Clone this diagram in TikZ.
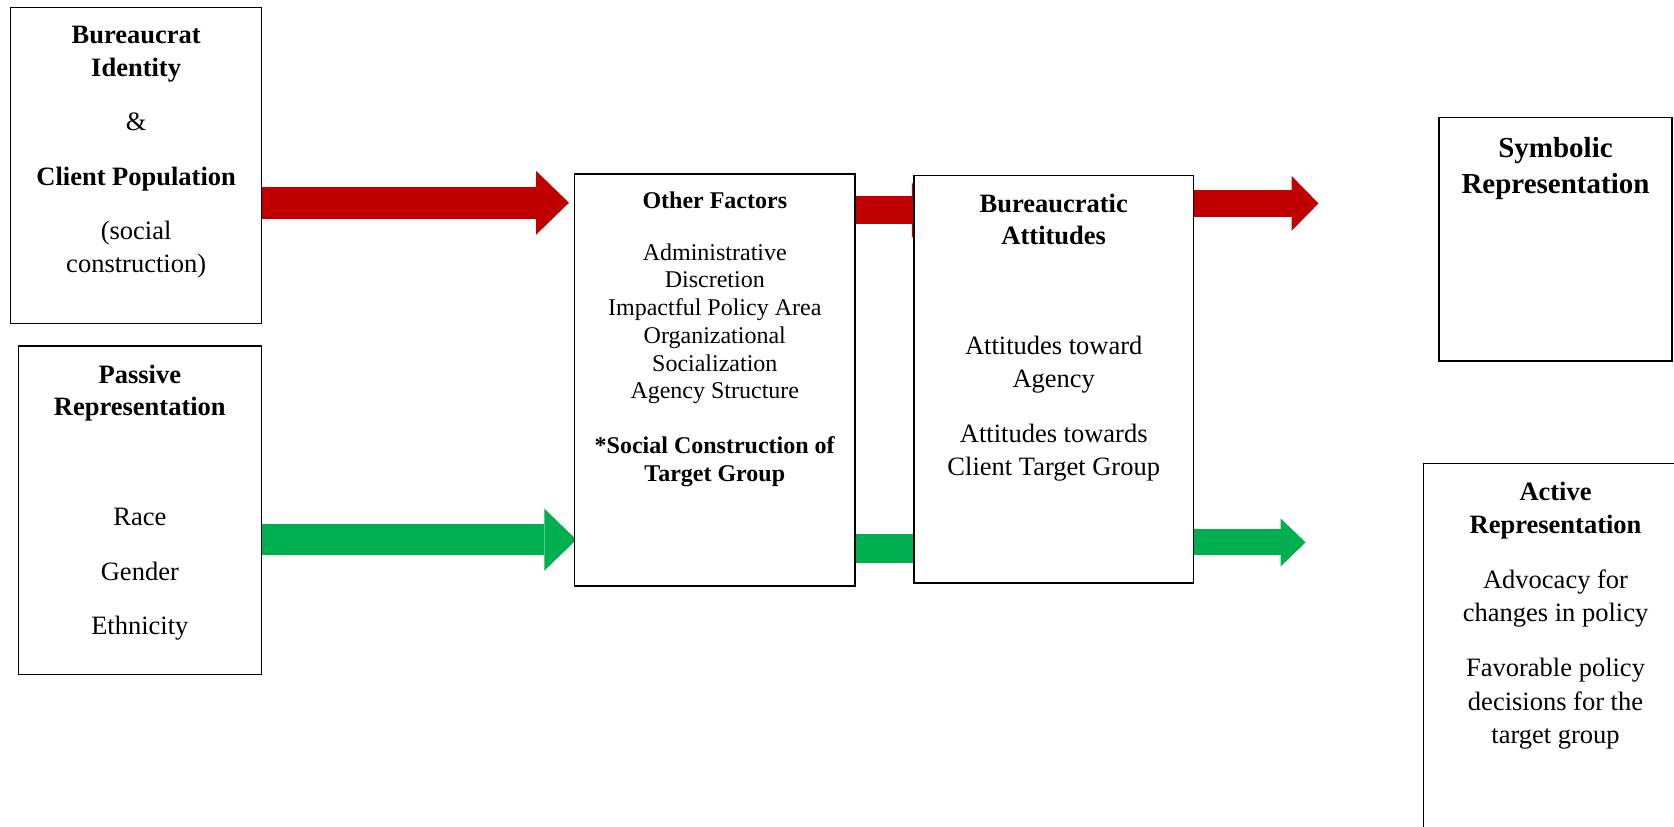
\documentclass[tikz,border=0pt]{standalone}
\usepackage{fontspec}
\setmainfont{Liberation Serif}
\usepackage{xcolor}
\usetikzlibrary{positioning,arrows.meta,backgrounds}
\definecolor{flowred}{HTML}{C00000}
\definecolor{flowgreen}{HTML}{00B050}
\newcommand{\mainsize}{\fontsize{26.5}{32.8}\selectfont}
\newcommand{\identsize}{\fontsize{26.5}{33.1}\selectfont}
\newcommand{\factorsize}{\fontsize{24}{27.7}\selectfont}
\newcommand{\symbsize}{\fontsize{29}{36}\selectfont}
\newcommand{\activesize}{\fontsize{26.5}{33.5}\selectfont}

\begin{document}
\begin{tikzpicture}[
    x=1pt, y=-1pt,
    box/.style={draw, fill=white, line width=1.2pt, inner sep=0pt, outer sep=0pt},
    heavybox/.style={box, line width=1.8pt},
    boxtext/.style={align=center, inner sep=0pt, outer sep=0pt},
    bigarrow/.style n args={3}{line width=#1, -{Triangle[length=#2, width=#3, line width=0pt]}},
  ]
  \useasboundingbox (0,0) rectangle (1674,827);

  % Left column
  \node[box, minimum width=250.9pt, minimum height=316pt] (ident) at (136.15,165.5) {};
  \node[boxtext, font=\identsize, below=18.5pt of ident.north] (identtext) {%
    \textbf{Bureaucrat}\\\textbf{Identity}\\[21.3pt]
    \&\\[21.3pt]
    \textbf{Client Population}\\[21.3pt]
    (social\\construction)};

  \node[box, minimum width=243.5pt, minimum height=328.8pt] (passive) at (139.85,510.3) {};
  \node[boxtext, font=\mainsize, below=18.9pt of passive.north] (passivetext) {%
    \textbf{Passive}\\\textbf{Representation}\\[77pt]
    Race\\[21.5pt]
    Gender\\[21.5pt]
    Ethnicity};

  % Middle column
  \node[heavybox, minimum width=280.8pt, minimum height=412.1pt] (factors) at (714.8,380.05) {};
  \node[boxtext, font=\factorsize, below=17.9pt of factors.north] (factorstext) {%
    \textbf{Other Factors}\\[24pt]
    Administrative\\Discretion\\Impactful Policy Area\\Organizational\\Socialization\\Agency Structure\\[27.5pt]
    \textbf{*Social Construction of}\\\textbf{Target Group}};

  \node[box, minimum width=279.7pt, minimum height=407.8pt] (attit) at (1053.75,379) {};
  \node[boxtext, font=\mainsize, below=18.6pt of attit.north] (attittext) {%
    \textbf{Bureaucratic}\\\textbf{Attitudes}\\[77pt]
    Attitudes toward\\Agency\\[22pt]
    Attitudes towards\\Client Target Group};

  % Right column
  \node[heavybox, minimum width=232.8pt, minimum height=243.5pt] (symb) at (1555.5,239.15) {};
  \node[boxtext, font=\symbsize, below=20.2pt of symb.north] (symbtext) {%
    \textbf{Symbolic}\\\textbf{Representation}};

  \node[box, minimum width=266.9pt, minimum height=381.7pt] (active) at (1556.55,654.15) {};
  \node[boxtext, font=\activesize, below=18.8pt of active.north, xshift=-1pt] (activetext) {%
    \textbf{Active}\\\textbf{Representation}\\[21pt]
    Advocacy for\\changes in policy\\[21.5pt]
    Favorable policy\\decisions for the\\target group};

  % Arrow rows
  \coordinate (redin) at (0,202.8);
  \coordinate (greenin) at (0,539.7);
  \coordinate (redmid) at (0,210.3);
  \coordinate (greenmid) at (0,548.2);
  \coordinate (redout) at (0,203.4);
  \coordinate (greenout) at (0,542.4);

  \begin{scope}[on background layer]
    \draw[flowred, bigarrow={32pt}{33pt}{64pt}, shorten >=5.4pt] (ident.east |- redin) -- (factors.west |- redin);
    \draw[flowgreen, bigarrow={31pt}{32pt}{62pt}, shorten >=-2pt] (passive.east |- greenin) -- (factors.west |- greenin);
    \draw[flowred, bigarrow={28pt}{26pt}{55pt}, shorten >=-24pt] (factors.east |- redmid) -- (attit.west |- redmid);
    \draw[flowgreen, bigarrow={29pt}{26pt}{56pt}, shorten >=-30pt] (factors.east |- greenmid) -- (attit.west |- greenmid);
    \draw[flowred, bigarrow={27pt}{27pt}{55pt}, shorten >=120.6pt] (attit.east |- redout) -- (symb.west |- redout);
    \draw[flowgreen, bigarrow={26pt}{25pt}{48pt}, shorten >=117.5pt] (attit.east |- greenout) -- (active.west |- greenout);
  \end{scope}
\end{tikzpicture}
\end{document}
